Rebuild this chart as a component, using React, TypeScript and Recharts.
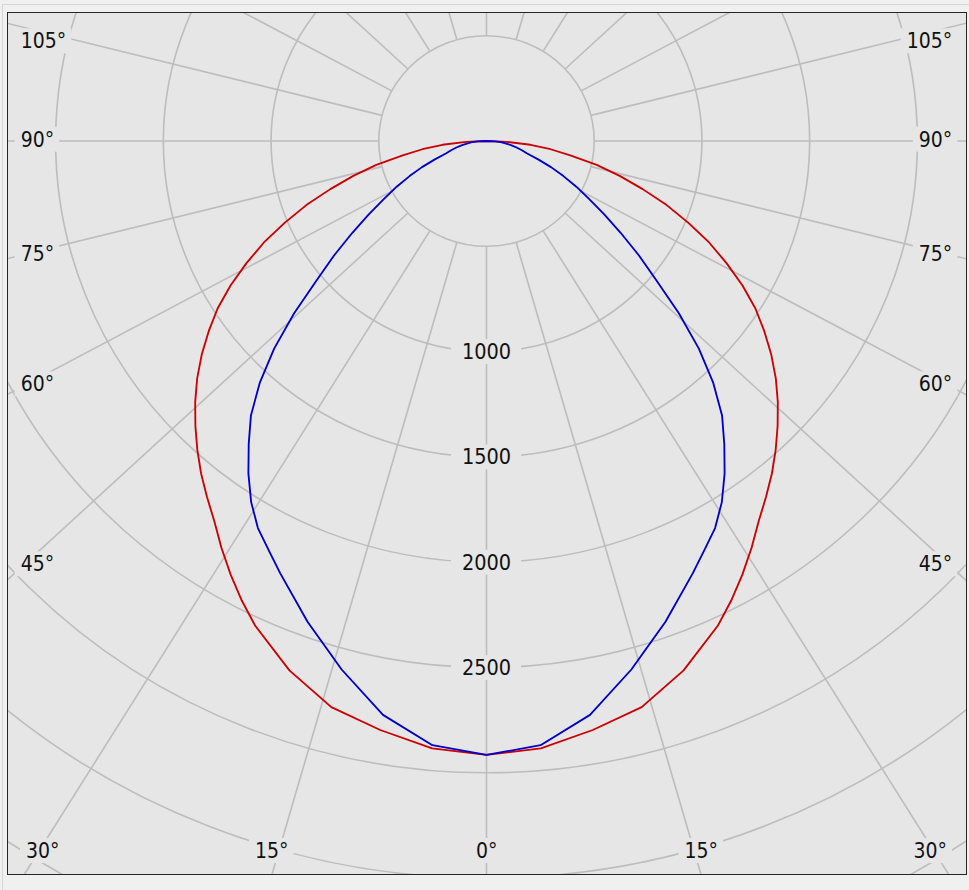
import React from 'react';
import { RadarChart, Radar, PolarGrid, PolarAngleAxis, PolarRadiusAxis } from 'recharts';

// ---------------- data ----------------
// gamma angle (deg from nadir) for every measured intensity value
const gammaAngles = [
  0, 5, 10, 15, 20, 25, 27.5, 30, 32.5, 35, 37.5, 40, 42.5, 45, 47.5, 50, 52.5, 55, 57.5, 60,
  62.5, 65, 67.5, 70, 72.5, 75, 77.5, 80, 82.5, 85, 87.5, 90,
];
// red curve, C0 half (right) and C180 half (left), cd
const redC0 = [
  2915, 2895, 2840, 2783, 2675, 2540, 2460, 2376, 2290, 2203, 2131, 2061, 1987, 1911, 1834, 1753,
  1666, 1574, 1480, 1372, 1256, 1140, 1013, 890, 760, 640, 524, 395, 300, 205, 95, 0,
];
const redC180 = [
  2915, 2895, 2840, 2783, 2675, 2540, 2460, 2376, 2290, 2203, 2131, 2061, 1987, 1911, 1834, 1753,
  1666, 1574, 1480, 1372, 1256, 1140, 1013, 890, 760, 640, 524, 395, 300, 205, 95, 0,
];
// blue curve, C90 half (right) and C270 half (left), cd
const blueC90 = [
  2915, 2880, 2767, 2598, 2429, 2265, 2190, 2122, 2033, 1927, 1813, 1701, 1558, 1394, 1211, 1030,
  891, 760, 648, 548, 470, 394, 324, 255, 198, 170, 143, 118, 92, 67, 40, 0,
];
const blueC270 = [
  2915, 2880, 2767, 2598, 2429, 2265, 2190, 2122, 2033, 1927, 1813, 1701, 1558, 1394, 1211, 1030,
  891, 760, 648, 548, 470, 394, 324, 255, 198, 170, 143, 118, 92, 67, 40, 0,
];

const ringValues = [500, 1000, 1500, 2000, 2500, 3000, 3500, 4000];
const radiusTickLabels = [1000, 1500, 2000, 2500];
const gridGammaAngles = [0, 15, 30, 45, 60, 75, 90, 105, 120, 135, 150, 165, 180];
const sideTickLabels = ['105°', '90°', '75°', '60°', '45°'];
const bottomTickLabels = ['30°', '15°', '0°', '15°', '30°'];

// ---------------- layout ----------------
const FRAME_W = 958;
const FRAME_H = 861;
const CX = 478.5;
const CY = 128;
const PX_PER_CD = 0.2106;
const R_MAX_VALUE = 4500;
const R_MAX = R_MAX_VALUE * PX_PER_CD;
const R_INNER = ringValues[0] * PX_PER_CD;
const STRETCH_X = 1.023;
const GRID_K = 1.067;
const BG = '#e6e6e6';
const GRID = '#bdbdbd';
const FONT = "'DejaVu Sans Condensed', 'DejaVu Sans', sans-serif";
const FONT_SIZE = 21;

const sideLabelY = [27.8, 126.2, 240.8, 370.8, 550.8];
const LEFT_LABEL_X = 12.7;
const RIGHT_LABEL_X = 944.3;
const bottomLabelX = [34.7, 263.7, 478.7, 693.3, 922.3];
const BOTTOM_LABEL_Y = 837.5;

// table for the Radar chart: angle-axis value a (0 = up, 180 = down, clockwise)
const rows = [
  ...gammaAngles
    .map((g, i) => ({ a: 180 + g, red: redC180[i], blue: blueC270[i] }))
    .reverse(),
  ...gammaAngles.slice(1).map((g, i) => ({ a: 180 - g, red: redC0[i + 1], blue: blueC90[i + 1] })),
];

// radial grid line directions (polar angles, degrees, CCW from east)
const gridPolarAngles: number[] = [];
gridGammaAngles.forEach((g) => {
  const r = (g * Math.PI) / 180;
  const s = GRID_K * Math.sin(r);
  const c = Math.cos(r);
  const right = (Math.atan2(-c, s) * 180) / Math.PI;
  const left = (Math.atan2(-c, -s) * 180) / Math.PI;
  gridPolarAngles.push(right);
  if (g !== 0 && g !== 180) gridPolarAngles.push(left);
});

const textWidth = (s: string) => s.replace('°', '').length * 12 + 9.5;

function BoxedLabel({ x, y, text, anchor }: { x: number; y: number; text: string; anchor: 'start' | 'middle' | 'end' }) {
  const w = textWidth(text);
  const left = anchor === 'start' ? x : anchor === 'end' ? x - w : x - w / 2;
  return (
    <g>
      <rect x={left - 6} y={y - 12.5} width={w + 11} height={25} fill={BG} />
      <text
        x={x}
        y={y + 7.6}
        textAnchor={anchor}
        fontFamily={FONT}
        fontStretch="condensed"
        fontSize={FONT_SIZE}
        fill="#111"
      >
        {text}
      </text>
    </g>
  );
}

const renderRadiusTick = (props: any) => {
  const { x, y, payload } = props;
  const v = payload && payload.value;
  if (!radiusTickLabels.includes(v)) return <g />;
  const label = String(v);
  return <BoxedLabel x={x} y={y} text={label} anchor="middle" />;
};

const margin0 = { top: 0, right: 0, bottom: 0, left: 0 };

export default function App() {
  return (
    <div style={{ position: 'absolute', left: 0, top: 0, width: 969, height: 890, background: '#f0f0f0', overflow: 'hidden' }}>
      <div
        style={{
          position: 'absolute',
          left: 2,
          top: 4,
          width: 967,
          height: 886,
          borderTop: '1px solid #d6d6d6',
          borderLeft: '1px solid #d6d6d6',
          boxSizing: 'border-box',
        }}
      />
      <div
        style={{
          position: 'absolute',
          left: 7,
          top: 12,
          width: FRAME_W + 2,
          height: FRAME_H + 2,
          border: '1px solid #262626',
          boxSizing: 'border-box',
          background: BG,
          overflow: 'hidden',
        }}
      >
        <div
          style={{
            position: 'absolute',
            left: 0,
            top: 0,
            width: FRAME_W,
            height: FRAME_H,
            transform: `scaleX(${STRETCH_X})`,
            transformOrigin: `${CX}px ${CY}px`,
          }}
        >
          <div style={{ position: 'absolute', left: 0, top: 0 }}>
            <RadarChart
              width={FRAME_W}
              height={FRAME_H}
              data={rows}
              cx={CX}
              cy={CY}
              innerRadius={R_INNER}
              outerRadius={R_MAX}
              margin={margin0}
            >
              <PolarGrid
                gridType="circle"
                polarAngles={gridPolarAngles}
                polarRadius={[]}
                stroke={GRID}
                strokeWidth={1.6}
              />
            </RadarChart>
          </div>
          <div style={{ position: 'absolute', left: 0, top: 0 }}>
            <RadarChart
              width={FRAME_W}
              height={FRAME_H}
              data={rows}
              cx={CX}
              cy={CY}
              innerRadius={0}
              outerRadius={R_MAX}
              startAngle={90}
              endAngle={-270}
              margin={margin0}
            >
              <PolarGrid gridType="circle" radialLines={false} stroke={GRID} strokeWidth={1.6} />
              <PolarAngleAxis dataKey="a" type="number" domain={[0, 360]} tick={false} axisLine={false} tickLine={false} />
              <PolarRadiusAxis
                type="number"
                domain={[0, R_MAX_VALUE]}
                ticks={ringValues}
                tickCount={10}
                angle={-90}
                axisLine={false}
                tickLine={false}
                tick={renderRadiusTick}
              />
              <Radar
                dataKey="red"
                stroke="#cc0000"
                strokeWidth={1.8}
                strokeLinejoin="round"
                fill="none"
                fillOpacity={0}
                dot={false}
                isAnimationActive={false}
              />
              <Radar
                dataKey="blue"
                stroke="#0000cc"
                strokeWidth={1.8}
                strokeLinejoin="round"
                fill="none"
                fillOpacity={0}
                dot={false}
                isAnimationActive={false}
              />
            </RadarChart>
          </div>
        </div>
        <svg
          width={FRAME_W}
          height={FRAME_H}
          style={{ position: 'absolute', left: 0, top: 0, pointerEvents: 'none' }}
        >
          {sideTickLabels.map((t, i) => (
            <BoxedLabel key={`l${i}`} x={LEFT_LABEL_X} y={sideLabelY[i]} text={t} anchor="start" />
          ))}
          {sideTickLabels.map((t, i) => (
            <BoxedLabel key={`r${i}`} x={RIGHT_LABEL_X} y={sideLabelY[i]} text={t} anchor="end" />
          ))}
          {bottomTickLabels.map((t, i) => (
            <BoxedLabel key={`b${i}`} x={bottomLabelX[i]} y={BOTTOM_LABEL_Y} text={t} anchor="middle" />
          ))}
        </svg>
      </div>
    </div>
  );
}
